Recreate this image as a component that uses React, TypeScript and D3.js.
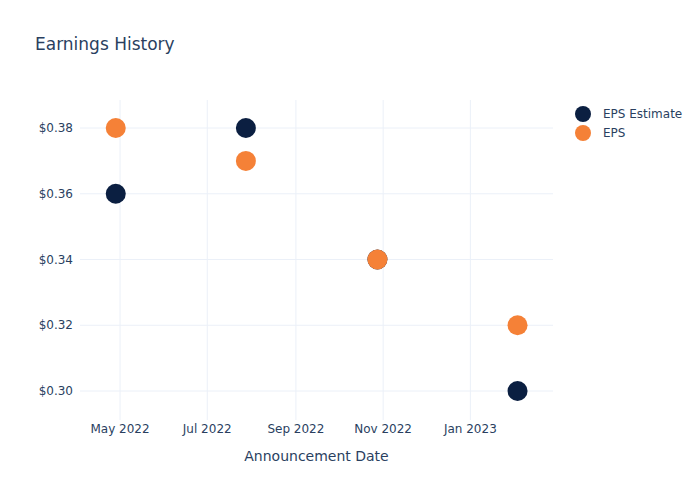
import React from "react";
import * as d3 from "d3";

const dates: string[] = ["2022-04-28", "2022-07-28", "2022-10-28", "2023-02-03"];
const epsEstimate: number[] = [0.36, 0.38, 0.34, 0.30];
const eps: number[] = [0.38, 0.37, 0.34, 0.32];
const yTicks: number[] = [0.30, 0.32, 0.34, 0.36, 0.38];
const xTickDates: string[] = ["2022-05-01", "2022-07-01", "2022-09-01", "2022-11-01", "2023-01-01"];
const xTickLabels: string[] = ["May 2022", "Jul 2022", "Sep 2022", "Nov 2022", "Jan 2023"];
const seriesNames: string[] = ["EPS Estimate", "EPS"];
const seriesColors: string[] = ["#0b1f41", "#f58137"];

const W = 700, H = 500;
const m = { l: 80, r: 147, t: 100, b: 80 };
const font = "'DejaVu Sans', Verdana, sans-serif";
const textColor = "#2a3f5f";
const gridColor = "#ebf0f8";

export default function App() {
  const parse = d3.utcParse("%Y-%m-%d");
  const x = d3
    .scaleUtc()
    .domain([new Date(Date.UTC(2022, 3, 3, 0)), new Date(Date.UTC(2023, 1, 27, 19))])
    .range([m.l, W - m.r]);
  const y = d3.scaleLinear().domain([0.29118, 0.38852]).range([H - m.b, m.t]);
  const fmt = d3.format("$.2f");
  const series = [epsEstimate, eps];

  return (
    <svg width={W} height={H} style={{ position: "absolute", left: 0, top: 0, background: "#fff" }} fontFamily={font}>
      <rect x={0} y={0} width={W} height={H} fill="#fff" />
      {xTickDates.map((d, i) => (
        <line key={"xg" + i} x1={x(parse(d)!)} x2={x(parse(d)!)} y1={m.t} y2={H - m.b} stroke={gridColor} strokeWidth={1} />
      ))}
      {yTicks.map((v, i) => (
        <line key={"yg" + i} x1={m.l} x2={W - m.r} y1={y(v)} y2={y(v)} stroke={gridColor} strokeWidth={1} />
      ))}
      {yTicks.map((v, i) => (
        <text key={"yt" + i} x={m.l - 7} y={y(v)} dy="0.35em" textAnchor="end" fontSize={12} fill={textColor}>
          {fmt(v)}
        </text>
      ))}
      {xTickDates.map((d, i) => (
        <text key={"xt" + i} x={x(parse(d)!)} y={H - m.b + 13} textAnchor="middle" fontSize={12} fill={textColor}>
          {xTickLabels[i]}
        </text>
      ))}
      <text x={(m.l + W - m.r) / 2} y={461} textAnchor="middle" fontSize={14} fill={textColor}>
        Announcement Date
      </text>
      <text x={35} y={50} fontSize={17} fill={textColor}>
        Earnings History
      </text>
      {series.map((s, si) =>
        s.map((v, i) => (
          <circle key={"p" + si + "-" + i} cx={x(parse(dates[i])!)} cy={y(v)} r={10} fill={seriesColors[si]} />
        ))
      )}
      {seriesNames.map((n, i) => (
        <g key={"lg" + i} transform={`translate(583, ${114 + i * 19})`}>
          <circle cx={0} cy={0} r={8} fill={seriesColors[i]} />
          <text x={20} y={0} dy="0.35em" fontSize={12} fill={textColor}>
            {n}
          </text>
        </g>
      ))}
    </svg>
  );
}
